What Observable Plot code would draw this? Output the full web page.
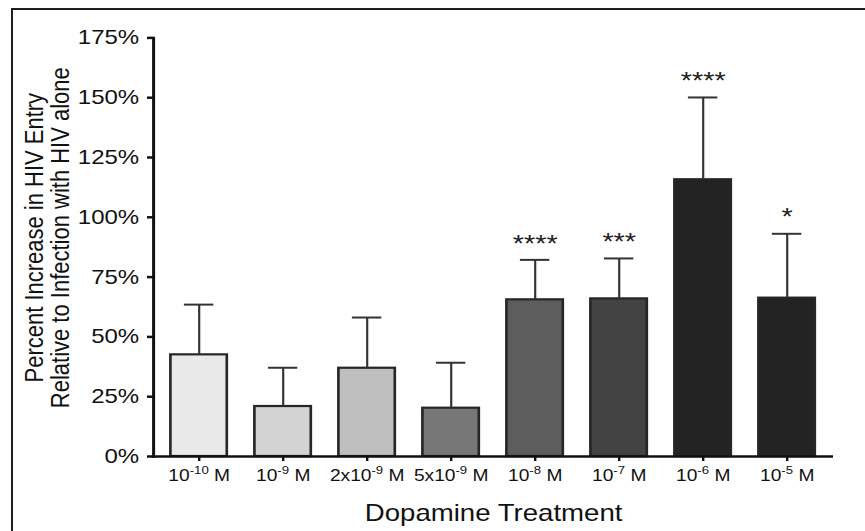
<!DOCTYPE html>
<html><head><meta charset="utf-8">
<script src="https://cdn.jsdelivr.net/npm/d3@7"></script>
<script src="https://cdn.jsdelivr.net/npm/@observablehq/plot@0.6"></script>
<style>
html,body{margin:0;padding:0;background:#fff;}
#wrap{position:relative;width:865px;height:531px;overflow:hidden;}
#border{position:absolute;left:11px;top:8px;right:-5px;bottom:-5px;border-top:2px solid #1e1e1e;border-left:2px solid #1e1e1e;pointer-events:none;}
</style></head><body>
<div id="wrap"><div id="chart"></div><div id="border"></div></div>
<script>
const categories = ["10-10 M","10-9 M","2x10-9 M","5x10-9 M","10-8 M","10-7 M","10-6 M","10-5 M"];
const labelBase = ["10","10","2x10","5x10","10","10","10","10"];
const labelExp = ["-10","-9","-9","-9","-8","-7","-6","-5"];
const labelUnit = " M";
const means = [42.5, 20.9, 36.9, 20.2, 65.5, 65.9, 115.7, 66.2];
const upperErr = [63.5, 37.1, 58.1, 39.2, 82.2, 82.8, 150.1, 93.1];
const significance = ["","","","","****","***","****","*"];
const barColors = ["#e9e9e9","#d3d3d3","#bfbfbf","#777777","#5d5d5d","#434343","#232323","#232323"];
const yTicks = [0,25,50,75,100,125,150,175];
const xTitle = "Dopamine Treatment";
const yTitle = "Percent Increase in HIV Entry\nRelative to Infection with HIV alone";

const rows = categories.map((c,i)=>({cat:c, mean:means[i], err:upperErr[i], sig:significance[i], color:barColors[i]}));

const SX = 1.2; // horizontal stretch of the original figure
const W = 865/SX, H = 531;
const font = "'Liberation Sans', Arial, sans-serif";

const chart = Plot.plot({
  width: W, height: H,
  marginLeft: 153/SX, marginRight: 32/SX, marginTop: 37.4, marginBottom: 75,
  style: {fontFamily: font, background: "white", color: "#111"},
  x: {domain: categories, paddingInner: 0.326, paddingOuter: 0.185, axis: null},
  y: {domain: [0,175], axis: null},
  color: {type: "identity"},
  marks: [
    Plot.barY(rows, {x:"cat", y:"mean", fill:"color", stroke:"#262626", strokeWidth:2.2}),
    Plot.ruleX(rows, {x:"cat", y1:"mean", y2:"err", stroke:"#333", strokeWidth:1.8}),
    Plot.tickY(rows, {x:"cat", y:"err", stroke:"#333", strokeWidth:2, insetLeft:11.25, insetRight:11.25}),
    Plot.text(rows, {x:"cat", y:"err", text:"sig", fontSize:24, dy:-16, fill:"#222"}),
    Plot.ruleY([0], {stroke:"#111", strokeWidth:2.5}),
    Plot.frame({anchor:"left", stroke:"#111", strokeWidth:2.5}),
    Plot.axisY({ticks: yTicks, tickFormat: d => d + "%", tickSize:5, tickPadding:7, fontSize:20, strokeWidth:2.5, label:null}),
    Plot.axisX({tickFormat: d => d, tickSize:5, tickPadding:8, fontSize:16, strokeWidth:2, label:null}),
    Plot.text([xTitle], {frameAnchor:"bottom", lineAnchor:"middle", dy:57.6, fontSize:23, fill:"#111"}),
    Plot.text([yTitle], {frameAnchor:"left", textAnchor:"middle", lineAnchor:"middle", dx:-88.5, dy:-9.5, rotate:-90, fontSize:22, lineHeight:1.0, fill:"#111"})
  ]
});

// superscript exponents in x tick labels
d3.select(chart).selectAll('g[aria-label="x-axis tick label"] text').each(function(){
  const t = d3.select(this);
  const i = categories.indexOf(this.textContent);
  if (i < 0) return;
  t.text(null);
  t.append("tspan").text(labelBase[i]);
  t.append("tspan").attr("dy", -6.5).attr("font-size", 11).text(labelExp[i]);
  t.append("tspan").attr("dy", 6.5).text(labelUnit);
});

chart.setAttribute("width", 865);
chart.setAttribute("height", 531);
chart.setAttribute("viewBox", `0 0 ${W} ${H}`);
chart.setAttribute("preserveAspectRatio", "none");
chart.style.maxWidth = "none";
chart.style.width = "865px";
chart.style.height = "531px";
document.getElementById("chart").append(chart);
</script>
</body></html>
